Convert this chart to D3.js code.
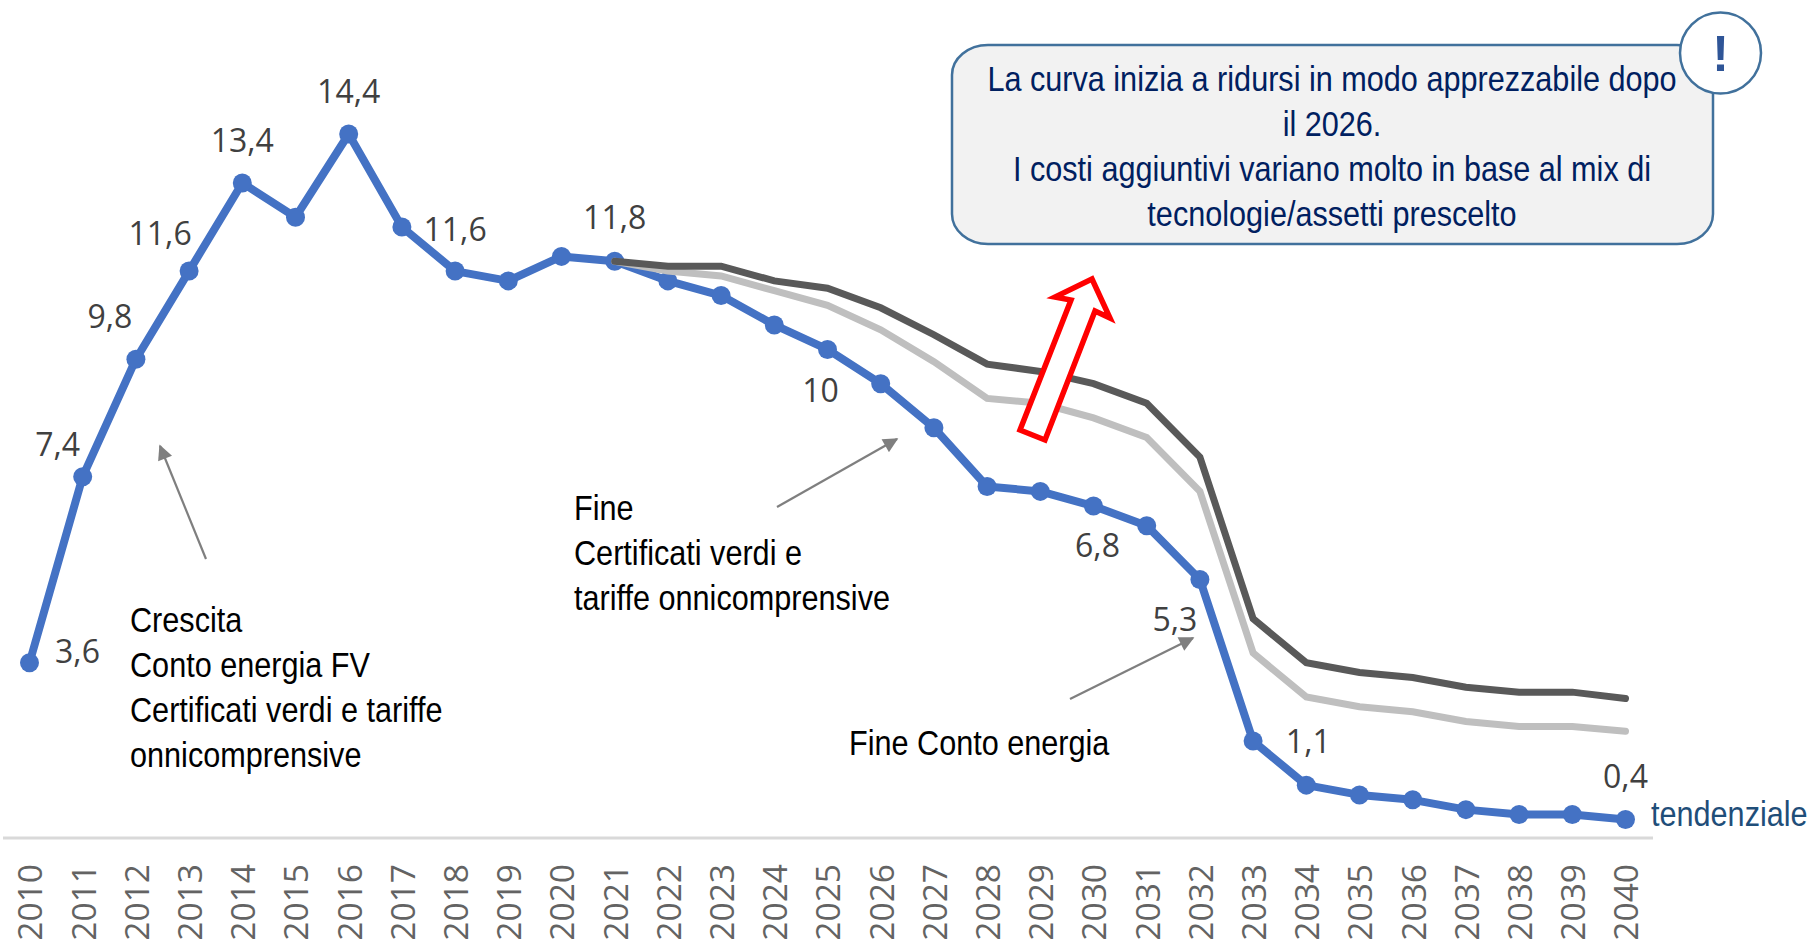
<!DOCTYPE html>
<html>
<head>
<meta charset="utf-8"/>
<script src="https://cdn.jsdelivr.net/npm/d3@7"></script>
<style>
html, body { margin: 0; background: #fff; }
svg { display: block; }
.note { font-family: "Liberation Sans", sans-serif; font-size: 35px; fill: #000; }
.box-text { fill: #002060; text-anchor: middle; }
.val { font-family: "Open Sans", sans-serif; font-size: 32px; fill: #404040; text-anchor: middle; }
.axis text { font-family: "Open Sans", sans-serif; font-size: 33.5px; fill: #636363; }
</style>
</head>
<body>
<svg id="chart" width="1812" height="942"></svg>
<script type="text/javascript">

var years = d3.range(2010, 2041);
var tendenziale = [3.6, 7.4, 9.8, 11.6, 13.4, 12.7, 14.4, 12.5, 11.6, 11.4, 11.9, 11.8, 11.4, 11.1, 10.5, 10.0,
  9.3, 8.4, 7.2, 7.1, 6.8, 6.4, 5.3, 2.0, 1.1, 0.9, 0.8, 0.6, 0.5, 0.5, 0.4];

// the two scenario curves only start in 2021
var scenarioYears = years.slice(11);
var scenarioDark = [11.8, 11.7, 11.7, 11.4, 11.25, 10.85, 10.3, 9.7, 9.55, 9.3, 8.9, 7.8, 4.5, 3.6, 3.4, 3.3, 3.1, 3.0, 3.0, 2.87];
var scenarioLight = [11.8, 11.6, 11.5, 11.2, 10.9, 10.4, 9.75, 9.0, 8.9, 8.6, 8.2, 7.1, 3.8, 2.9, 2.7, 2.6, 2.4, 2.3, 2.3, 2.2];

var labelYears = [2010, 2011, 2012, 2013, 2014, 2016, 2018, 2021, 2025, 2030, 2032, 2034, 2040];
var labelDx = [48, -25, -26, -29, 0, 0, 0, 0, -7, 4, -25, 2, 0];
var labelDy = [3, -18, -28, -23, -28, -28, -27, -29, 56, 54, 55, -29, -28];

var boxLines = ["La curva inizia a ridursi in modo apprezzabile dopo", "il 2026.",
  "I costi aggiuntivi variano molto in base al mix di", "tecnologie/assetti prescelto"];
var noteGrowth = ["Crescita", "Conto energia FV", "Certificati verdi e tariffe", "onnicomprensive"];
var noteEndCv = ["Fine", "Certificati verdi e", "tariffe onnicomprensive"];
var noteEndCe = ["Fine Conto energia"];

var narrow = 0.875; // the note text is squeezed sideways in the original

var svg = d3.select("#chart");

var x = d3.scalePoint().domain(years).range([29.5, 1625.5]);
var y = d3.scaleLinear().domain([0, 14.4]).range([839, 134]);

// axis
var axis = d3.axisBottom(x).tickSize(0).tickPadding(0);
var gx = svg.append("g").attr("class", "axis").attr("transform", "translate(0,838)").call(axis);
gx.select(".domain").remove();
gx.append("line").attr("x1", 3).attr("x2", 1653).attr("stroke", "#d9d9d9").attr("stroke-width", 3);
gx.selectAll(".tick text")
  .attr("transform", "rotate(-90)")
  .attr("text-anchor", "end")
  .attr("x", -26)
  .attr("y", 0)
  .attr("dy", "0.37em");

var line = d3.line().x(function(d) { return x(d[0]); }).y(function(d) { return y(d[1]); });

function zip(xs, ys) {
  return xs.map(function(v, i) { return [v, ys[i]]; });
}

svg.append("path")
  .attr("d", line(zip(years, tendenziale)))
  .attr("fill", "none").attr("stroke", "#4472c4").attr("stroke-width", 8).attr("stroke-linejoin", "round");

svg.selectAll("circle.pt")
  .data(zip(years, tendenziale))
  .enter().append("circle")
  .attr("class", "pt")
  .attr("cx", function(d) { return x(d[0]); })
  .attr("cy", function(d) { return y(d[1]); })
  .attr("r", 9.5)
  .attr("fill", "#4472c4");

svg.append("path")
  .attr("d", line(zip(scenarioYears, scenarioLight)))
  .attr("fill", "none").attr("stroke", "#bfbfbf").attr("stroke-width", 7).attr("stroke-linecap", "round");
svg.append("path")
  .attr("d", line(zip(scenarioYears, scenarioDark)))
  .attr("fill", "none").attr("stroke", "#595959").attr("stroke-width", 7).attr("stroke-linecap", "round");

// data labels
var fmt = function(v) { return String(v).replace(".", ","); };
labelYears.forEach(function(yr, i) {
  var v = tendenziale[years.indexOf(yr)];
  svg.append("text").attr("class", "val")
    .attr("x", x(yr) + labelDx[i])
    .attr("y", y(v) + labelDy[i])
    .attr("dy", "-0.1em")
    .text(fmt(v));
});

// grey pointers
svg.append("defs").append("marker")
  .attr("id", "head").attr("viewBox", "0 0 10 10").attr("refX", 9).attr("refY", 5)
  .attr("markerUnits", "userSpaceOnUse").attr("markerWidth", 17).attr("markerHeight", 15).attr("orient", "auto")
  .append("path").attr("d", "M0,0L10,5L0,10Z").attr("fill", "#7f7f7f");

[[206, 559, 160, 446], [777, 507, 897, 439], [1070, 699, 1193, 638]].forEach(function(a) {
  svg.append("line")
    .attr("x1", a[0]).attr("y1", a[1]).attr("x2", a[2]).attr("y2", a[3])
    .attr("stroke", "#7f7f7f").attr("stroke-width", 2.2).attr("marker-end", "url(#head)");
});

function place(px, py) {
  return "translate(" + px + "," + py + ") scale(" + narrow + ",1)";
}

function note(lines, px, py) {
  svg.append("g").selectAll("text").data(lines).enter().append("text")
    .attr("class", "note")
    .attr("transform", function(d, i) { return place(px, py + i * 45); })
    .text(function(d) { return d; });
}
note(noteGrowth, 130, 632);
note(noteEndCv, 574, 520);
note(noteEndCe, 849, 755);

svg.append("text").attr("class", "note")
  .attr("transform", place(1651, 826))
  .style("fill", "#1f4e79").text("tendenziale");

// red arrow
svg.append("path")
  .attr("d", "M1092,279L1055,297L1071,300L1020,430L1045,440L1095,311L1110,318Z")
  .attr("fill", "#fff").attr("stroke", "#ff0000").attr("stroke-width", 5.5);

// callout
svg.append("rect")
  .attr("x", 952).attr("y", 45).attr("width", 761).attr("height", 199)
  .attr("rx", 36).attr("ry", 30)
  .attr("fill", "#f2f2f2").attr("stroke", "#41719c").attr("stroke-width", 2.5);
svg.append("g").selectAll("text").data(boxLines).enter().append("text")
  .attr("class", "note box-text")
  .attr("transform", function(d, i) { return place(1332, 91 + i * 45); })
  .style("fill", "#002060")
  .text(function(d) { return d; });
svg.append("circle")
  .attr("cx", 1720.5).attr("cy", 53).attr("r", 40.5)
  .attr("fill", "#fff").attr("stroke", "#41719c").attr("stroke-width", 2.5);
svg.append("text").attr("x", 1720.5).attr("y", 71)
  .attr("text-anchor", "middle")
  .style("font-family", "Liberation Sans").style("font-size", "50px").style("font-weight", "bold").style("fill", "#2f5597")
  .text("!");

</script>
</body>
</html>
